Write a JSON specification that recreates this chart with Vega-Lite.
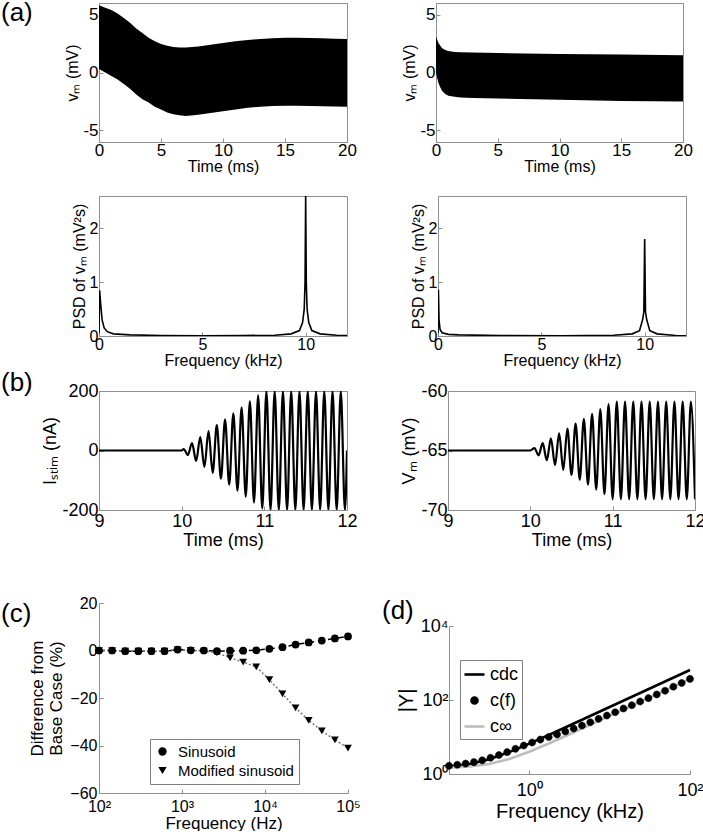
{
  "$schema": "https://vega.github.io/schema/vega-lite/v6.json",
  "padding": {"left": 0, "top": -1, "right": 0, "bottom": 0},
  "background": "white",
  "config": {
    "font": "Liberation Sans",
    "view": {"stroke": null},
    "axis": {"grid": false, "domainColor": "#8f8f8f", "tickColor": "#8f8f8f", "tickSize": -4, "labelColor": "black", "titleColor": "black", "labelFont": "Liberation Sans", "titleFont": "Liberation Sans", "titleFontWeight": "normal", "labelFlush": false, "labelOverlap": false, "labelFontSize": 17, "titleFontSize": 16},
    "axisX": {"labelPadding": 4, "titlePadding": 0},
    "axisY": {"labelPadding": 5, "titlePadding": 2},
    "title": {"fontWeight": "normal", "fontSize": 26, "font": "Liberation Sans", "color": "black", "anchor": "start", "frame": "group", "offset": 0, "baseline": "alphabetic"},
    "legend": {"labelFont": "Liberation Sans", "labelColor": "black"}
  },
  "datasets": {
    "a1": [
      {"t": 0, "hi": 5.8, "lo": 0.3}, {"t": 0.5, "hi": 5.6, "lo": 0.0}, {"t": 1, "hi": 5.4, "lo": -0.3}, {"t": 1.5, "hi": 5.1, "lo": -0.6},
      {"t": 2, "hi": 4.7, "lo": -1.0}, {"t": 2.5, "hi": 4.3, "lo": -1.4}, {"t": 3, "hi": 3.8, "lo": -1.9}, {"t": 3.5, "hi": 3.4, "lo": -2.3},
      {"t": 4, "hi": 3.0, "lo": -2.6}, {"t": 4.5, "hi": 2.7, "lo": -2.95}, {"t": 5, "hi": 2.45, "lo": -3.2}, {"t": 5.5, "hi": 2.3, "lo": -3.45},
      {"t": 6, "hi": 2.2, "lo": -3.6}, {"t": 6.5, "hi": 2.15, "lo": -3.7}, {"t": 7, "hi": 2.15, "lo": -3.75}, {"t": 8, "hi": 2.25, "lo": -3.65},
      {"t": 9, "hi": 2.4, "lo": -3.5}, {"t": 10, "hi": 2.55, "lo": -3.35}, {"t": 11, "hi": 2.7, "lo": -3.2}, {"t": 12, "hi": 2.8, "lo": -3.05},
      {"t": 13, "hi": 2.9, "lo": -2.95}, {"t": 14, "hi": 2.95, "lo": -2.9}, {"t": 15, "hi": 3.0, "lo": -2.88}, {"t": 16, "hi": 3.0, "lo": -2.88},
      {"t": 17, "hi": 2.98, "lo": -2.9}, {"t": 18, "hi": 2.95, "lo": -2.92}, {"t": 19, "hi": 2.92, "lo": -2.93}, {"t": 20, "hi": 2.9, "lo": -2.95}
    ],
    "a2": [
      {"t": 0, "hi": 3.1, "lo": 0.0}, {"t": 0.1, "hi": 2.8, "lo": -0.5}, {"t": 0.2, "hi": 2.55, "lo": -0.9}, {"t": 0.35, "hi": 2.3, "lo": -1.3},
      {"t": 0.5, "hi": 2.1, "lo": -1.6}, {"t": 0.75, "hi": 1.95, "lo": -1.85}, {"t": 1, "hi": 1.85, "lo": -2.0}, {"t": 1.5, "hi": 1.78, "lo": -2.1},
      {"t": 2, "hi": 1.75, "lo": -2.15}, {"t": 3, "hi": 1.72, "lo": -2.2}, {"t": 5, "hi": 1.68, "lo": -2.25}, {"t": 10, "hi": 1.6, "lo": -2.35},
      {"t": 15, "hi": 1.55, "lo": -2.45}, {"t": 20, "hi": 1.5, "lo": -2.5}
    ],
    "psd1": [
      {"f": 0, "p": 0.05}, {"f": 0.03, "p": 0.85}, {"f": 0.08, "p": 0.6}, {"f": 0.15, "p": 0.3}, {"f": 0.25, "p": 0.15}, {"f": 0.4, "p": 0.08},
      {"f": 0.7, "p": 0.04}, {"f": 1.5, "p": 0.02}, {"f": 3, "p": 0.01}, {"f": 5, "p": 0.006}, {"f": 7, "p": 0.008}, {"f": 8.5, "p": 0.015},
      {"f": 9.3, "p": 0.04}, {"f": 9.7, "p": 0.1}, {"f": 9.85, "p": 0.25}, {"f": 9.93, "p": 0.5}, {"f": 9.97, "p": 1.0}, {"f": 10.0, "p": 2.6},
      {"f": 10.03, "p": 1.0}, {"f": 10.07, "p": 0.5}, {"f": 10.15, "p": 0.25}, {"f": 10.3, "p": 0.1}, {"f": 10.7, "p": 0.04}, {"f": 11.5, "p": 0.015}, {"f": 12, "p": 0.01}
    ],
    "psd2": [
      {"f": 0, "p": 0.05}, {"f": 0.02, "p": 0.86}, {"f": 0.05, "p": 0.3}, {"f": 0.1, "p": 0.12}, {"f": 0.2, "p": 0.06}, {"f": 0.5, "p": 0.03},
      {"f": 1, "p": 0.02}, {"f": 3, "p": 0.008}, {"f": 6, "p": 0.006}, {"f": 8.5, "p": 0.015}, {"f": 9.4, "p": 0.04}, {"f": 9.75, "p": 0.1},
      {"f": 9.9, "p": 0.3}, {"f": 9.96, "p": 0.45}, {"f": 10.0, "p": 1.8}, {"f": 10.04, "p": 0.45}, {"f": 10.1, "p": 0.3}, {"f": 10.25, "p": 0.1},
      {"f": 10.6, "p": 0.04}, {"f": 11.5, "p": 0.01}, {"f": 12, "p": 0.005}
    ],
    "istim": [
      {"t": 9, "i": 0}, {"t": 10, "i": 0}, {"t": 10.025, "i": 5}, {"t": 10.075, "i": -15}, {"t": 10.125, "i": 25}, {"t": 10.175, "i": -35},
      {"t": 10.225, "i": 45}, {"t": 10.275, "i": -55}, {"t": 10.325, "i": 65}, {"t": 10.375, "i": -75}, {"t": 10.425, "i": 85}, {"t": 10.475, "i": -95},
      {"t": 10.525, "i": 105}, {"t": 10.575, "i": -115}, {"t": 10.625, "i": 125}, {"t": 10.675, "i": -135}, {"t": 10.725, "i": 145}, {"t": 10.775, "i": -155},
      {"t": 10.825, "i": 165}, {"t": 10.875, "i": -175}, {"t": 10.925, "i": 185}, {"t": 10.975, "i": -195}, {"t": 11.025, "i": 200}, {"t": 11.075, "i": -200},
      {"t": 11.125, "i": 200}, {"t": 11.175, "i": -200}, {"t": 11.225, "i": 200}, {"t": 11.275, "i": -200}, {"t": 11.325, "i": 200}, {"t": 11.375, "i": -200},
      {"t": 11.425, "i": 200}, {"t": 11.475, "i": -200}, {"t": 11.525, "i": 200}, {"t": 11.575, "i": -200}, {"t": 11.625, "i": 200}, {"t": 11.675, "i": -200},
      {"t": 11.725, "i": 200}, {"t": 11.775, "i": -200}, {"t": 11.825, "i": 200}, {"t": 11.875, "i": -200}, {"t": 11.925, "i": 200}, {"t": 11.975, "i": -200},
      {"t": 12, "i": 0}
    ],
    "vm": [
      {"t": 9, "v": -65}, {"t": 10, "v": -65}, {"t": 10.05, "v": -64.795}, {"t": 10.1, "v": -65.41}, {"t": 10.15, "v": -64.385}, {"t": 10.2, "v": -65.82},
      {"t": 10.25, "v": -63.975}, {"t": 10.3, "v": -66.23}, {"t": 10.35, "v": -63.565}, {"t": 10.4, "v": -66.64}, {"t": 10.45, "v": -63.155}, {"t": 10.5, "v": -67.05},
      {"t": 10.55, "v": -62.745}, {"t": 10.6, "v": -67.46}, {"t": 10.65, "v": -62.335}, {"t": 10.7, "v": -67.87}, {"t": 10.75, "v": -61.925}, {"t": 10.8, "v": -68.28},
      {"t": 10.85, "v": -61.515}, {"t": 10.9, "v": -68.69}, {"t": 10.95, "v": -61.105}, {"t": 11.0, "v": -69.1}, {"t": 11.05, "v": -60.9}, {"t": 11.1, "v": -69.1},
      {"t": 11.15, "v": -60.9}, {"t": 11.2, "v": -69.1}, {"t": 11.25, "v": -60.9}, {"t": 11.3, "v": -69.1}, {"t": 11.35, "v": -60.9}, {"t": 11.4, "v": -69.1},
      {"t": 11.45, "v": -60.9}, {"t": 11.5, "v": -69.1}, {"t": 11.55, "v": -60.9}, {"t": 11.6, "v": -69.1}, {"t": 11.65, "v": -60.9}, {"t": 11.7, "v": -69.1},
      {"t": 11.75, "v": -60.9}, {"t": 11.8, "v": -69.1}, {"t": 11.85, "v": -60.9}, {"t": 11.9, "v": -69.1}, {"t": 11.95, "v": -60.9}, {"t": 12.0, "v": -69.1}
    ],
    "cdat": [
      {"f": 100, "s": "Sinusoid", "d": 0}, {"f": 143.8, "s": "Sinusoid", "d": 0}, {"f": 206.9, "s": "Sinusoid", "d": -0.3}, {"f": 297.6, "s": "Sinusoid", "d": -0.3},
      {"f": 428.1, "s": "Sinusoid", "d": -0.3}, {"f": 615.8, "s": "Sinusoid", "d": -0.3}, {"f": 885.9, "s": "Sinusoid", "d": 0.4}, {"f": 1274.3, "s": "Sinusoid", "d": 0.1},
      {"f": 1833, "s": "Sinusoid", "d": 0}, {"f": 2636.7, "s": "Sinusoid", "d": -0.3}, {"f": 3792.7, "s": "Sinusoid", "d": -0.1}, {"f": 5455.6, "s": "Sinusoid", "d": -0.1},
      {"f": 7847.6, "s": "Sinusoid", "d": 0.1}, {"f": 11288.4, "s": "Sinusoid", "d": 0.7}, {"f": 16237.8, "s": "Sinusoid", "d": 1.4}, {"f": 23357.2, "s": "Sinusoid", "d": 2.5},
      {"f": 33598.2, "s": "Sinusoid", "d": 3.4}, {"f": 48329.3, "s": "Sinusoid", "d": 4.2}, {"f": 69519.3, "s": "Sinusoid", "d": 5.1}, {"f": 100000, "s": "Sinusoid", "d": 5.9},
      {"f": 100, "s": "Modified sinusoid", "d": 0}, {"f": 143.8, "s": "Modified sinusoid", "d": 0}, {"f": 206.9, "s": "Modified sinusoid", "d": -0.3}, {"f": 297.6, "s": "Modified sinusoid", "d": -0.3},
      {"f": 428.1, "s": "Modified sinusoid", "d": -0.3}, {"f": 615.8, "s": "Modified sinusoid", "d": -0.3}, {"f": 885.9, "s": "Modified sinusoid", "d": 0.3}, {"f": 1274.3, "s": "Modified sinusoid", "d": 0.1},
      {"f": 1833, "s": "Modified sinusoid", "d": -0.3}, {"f": 2636.7, "s": "Modified sinusoid", "d": -1.0}, {"f": 3792.7, "s": "Modified sinusoid", "d": -3.1}, {"f": 5455.6, "s": "Modified sinusoid", "d": -4.9},
      {"f": 7847.6, "s": "Modified sinusoid", "d": -6.9}, {"f": 11288.4, "s": "Modified sinusoid", "d": -12.3}, {"f": 16237.8, "s": "Modified sinusoid", "d": -18.3}, {"f": 23357.2, "s": "Modified sinusoid", "d": -24.2},
      {"f": 33598.2, "s": "Modified sinusoid", "d": -29.4}, {"f": 48329.3, "s": "Modified sinusoid", "d": -33.8}, {"f": 69519.3, "s": "Modified sinusoid", "d": -37.6}, {"f": 100000, "s": "Modified sinusoid", "d": -41.1}
    ],
    "dline": [
      {"f": 0.1, "s": "cdc", "y": 1.58}, {"f": 0.1778, "s": "cdc", "y": 1.84}, {"f": 0.3162, "s": "cdc", "y": 2.5}, {"f": 0.5623, "s": "cdc", "y": 3.91},
      {"f": 1, "s": "cdc", "y": 6.62}, {"f": 1.778, "s": "cdc", "y": 11.6}, {"f": 3.162, "s": "cdc", "y": 20.5}, {"f": 5.623, "s": "cdc", "y": 36.3},
      {"f": 10, "s": "cdc", "y": 64.6}, {"f": 17.78, "s": "cdc", "y": 115}, {"f": 31.62, "s": "cdc", "y": 204}, {"f": 56.23, "s": "cdc", "y": 363}, {"f": 100, "s": "cdc", "y": 646},
      {"f": 0.1, "s": "c∞", "y": 1.49}, {"f": 0.1778, "s": "c∞", "y": 1.59}, {"f": 0.3162, "s": "c∞", "y": 1.86}, {"f": 0.5623, "s": "c∞", "y": 2.54},
      {"f": 1, "s": "c∞", "y": 3.99}, {"f": 1.778, "s": "c∞", "y": 6.78}, {"f": 3.162, "s": "c∞", "y": 11.85}, {"f": 5.623, "s": "c∞", "y": 20.95},
      {"f": 10, "s": "c∞", "y": 37.2}, {"f": 17.78, "s": "c∞", "y": 66.2}, {"f": 31.62, "s": "c∞", "y": 117.6}, {"f": 56.23, "s": "c∞", "y": 209}, {"f": 100, "s": "c∞", "y": 372}
    ],
    "ddot": [
      {"f": 0.1, "s": "c(f)", "y": 1.66}, {"f": 0.1269, "s": "c(f)", "y": 1.78}, {"f": 0.161, "s": "c(f)", "y": 1.91}, {"f": 0.2043, "s": "c(f)", "y": 2.09},
      {"f": 0.2593, "s": "c(f)", "y": 2.34}, {"f": 0.329, "s": "c(f)", "y": 2.75}, {"f": 0.4175, "s": "c(f)", "y": 3.24}, {"f": 0.5298, "s": "c(f)", "y": 3.89},
      {"f": 0.6723, "s": "c(f)", "y": 4.79}, {"f": 0.8532, "s": "c(f)", "y": 5.89}, {"f": 1.0826, "s": "c(f)", "y": 7.08}, {"f": 1.3738, "s": "c(f)", "y": 8.51},
      {"f": 1.7433, "s": "c(f)", "y": 10.0}, {"f": 2.2122, "s": "c(f)", "y": 11.75}, {"f": 2.8072, "s": "c(f)", "y": 14.13}, {"f": 3.5622, "s": "c(f)", "y": 16.98},
      {"f": 4.5204, "s": "c(f)", "y": 20.42}, {"f": 5.7362, "s": "c(f)", "y": 25.12}, {"f": 7.279, "s": "c(f)", "y": 30.9}, {"f": 9.2367, "s": "c(f)", "y": 38.02},
      {"f": 11.721, "s": "c(f)", "y": 46.77}, {"f": 14.874, "s": "c(f)", "y": 58.88}, {"f": 18.874, "s": "c(f)", "y": 72.44}, {"f": 23.95, "s": "c(f)", "y": 91.2},
      {"f": 30.392, "s": "c(f)", "y": 112.2}, {"f": 38.566, "s": "c(f)", "y": 141.3}, {"f": 48.939, "s": "c(f)", "y": 177.8}, {"f": 62.102, "s": "c(f)", "y": 229.1},
      {"f": 78.805, "s": "c(f)", "y": 288.4}, {"f": 100, "s": "c(f)", "y": 371.5}
    ]
  },
  "resolve": {"scale": {"color": "independent", "shape": "independent", "strokeDash": "independent", "fill": "independent", "stroke": "independent"}, "legend": {"color": "independent", "shape": "independent", "strokeDash": "independent", "fill": "independent", "stroke": "independent"}},
  "spacing": 0,
  "vconcat": [
    {
      "spacing": 20,
      "resolve": {"scale": {"color": "independent", "shape": "independent", "strokeDash": "independent", "fill": "independent", "stroke": "independent"}, "legend": {"color": "independent", "shape": "independent", "strokeDash": "independent", "fill": "independent", "stroke": "independent"}},
      "vconcat": [
        {
          "spacing": 44,
          "hconcat": [
            {
              "width": 248, "height": 139,
              "view": {"stroke": "#8f8f8f"},
              "title": {"text": "(a)", "dx": -98, "dy": 27},
              "data": {"name": "a1"},
              "mark": {"type": "area", "color": "black", "clip": true},
              "encoding": {
                "x": {"field": "t", "type": "quantitative", "scale": {"domain": [0, 20], "nice": false}, "axis": {"values": [0, 5, 10, 15, 20], "title": "Time (ms)"}},
                "y": {"field": "hi", "type": "quantitative", "scale": {"domain": [-6, 6], "nice": false, "zero": false}, "axis": {"values": [-5, 0, 5], "title": "vₘ (mV)", "labelExpr": "replace(datum.label, '−', '-')"}},
                "y2": {"field": "lo"}
              }
            },
            {
              "width": 247, "height": 139,
              "view": {"stroke": "#8f8f8f"},
              "data": {"name": "a2"},
              "mark": {"type": "area", "color": "black", "clip": true},
              "encoding": {
                "x": {"field": "t", "type": "quantitative", "scale": {"domain": [0, 20], "nice": false}, "axis": {"values": [0, 5, 10, 15, 20], "title": "Time (ms)"}},
                "y": {"field": "hi", "type": "quantitative", "scale": {"domain": [-6, 6], "nice": false, "zero": false}, "axis": {"values": [-5, 0, 5], "title": "vₘ (mV)", "labelExpr": "replace(datum.label, '−', '-')"}},
                "y2": {"field": "lo"}
              }
            }
          ]
        },
        {
          "spacing": 61,
          "hconcat": [
            {
              "width": 248, "height": 140,
              "view": {"stroke": "#8f8f8f"},
              "data": {"name": "psd1"},
              "mark": {"type": "line", "color": "black", "strokeWidth": 1.6, "clip": true},
              "encoding": {
                "x": {"field": "f", "type": "quantitative", "scale": {"domain": [0, 12], "nice": false}, "axis": {"values": [0, 5, 10], "title": "Frequency (kHz)", "labelFontSize": 16}},
                "y": {"field": "p", "type": "quantitative", "scale": {"domain": [0, 2.6], "nice": false}, "axis": {"values": [0, 1, 2], "title": "PSD of vₘ (mV²s)", "labelFontSize": 16}}
              }
            },
            {
              "width": 248, "height": 140,
              "view": {"stroke": "#8f8f8f"},
              "data": {"name": "psd2"},
              "mark": {"type": "line", "color": "black", "strokeWidth": 1.6, "clip": true},
              "encoding": {
                "x": {"field": "f", "type": "quantitative", "scale": {"domain": [0, 12], "nice": false}, "axis": {"values": [0, 5, 10], "title": "Frequency (kHz)", "labelFontSize": 16}},
                "y": {"field": "p", "type": "quantitative", "scale": {"domain": [0, 2.6], "nice": false}, "axis": {"values": [0, 1, 2], "title": "PSD of vₘ (mV²s)", "labelFontSize": 16}}
              }
            }
          ]
        }
      ]
    },
    {
      "spacing": 45,
      "resolve": {"scale": {"color": "independent", "shape": "independent", "strokeDash": "independent", "fill": "independent", "stroke": "independent"}, "legend": {"color": "independent", "shape": "independent", "strokeDash": "independent", "fill": "independent", "stroke": "independent"}},
      "vconcat": [
        {
          "spacing": 42,
          "hconcat": [
            {
              "width": 248, "height": 119,
              "view": {"stroke": "#8f8f8f"},
              "title": {"text": "(b)", "dx": -98, "dy": 18},
              "data": {"name": "istim"},
              "mark": {"type": "line", "color": "black", "strokeWidth": 2.2, "interpolate": "monotone", "clip": true},
              "encoding": {
                "x": {"field": "t", "type": "quantitative", "scale": {"domain": [9, 12], "nice": false}, "axis": {"values": [9, 10, 11, 12], "title": "Time (ms)", "labelFontSize": 18, "titleFontSize": 18, "labelPadding": 6, "titlePadding": 1}},
                "y": {"field": "i", "type": "quantitative", "scale": {"domain": [-200, 200], "nice": false}, "axis": {"values": [-200, 0, 200], "title": "Iₛₜᵢₘ (nA)", "labelFontSize": 18, "titleFontSize": 18, "labelExpr": "replace(datum.label, '−', '-')"}}
              }
            },
            {
              "width": 247, "height": 119,
              "view": {"stroke": "#8f8f8f"},
              "data": {"name": "vm"},
              "mark": {"type": "line", "color": "black", "strokeWidth": 2.2, "interpolate": "monotone", "clip": true},
              "encoding": {
                "x": {"field": "t", "type": "quantitative", "scale": {"domain": [9, 12], "nice": false}, "axis": {"values": [9, 10, 11, 12], "title": "Time (ms)", "labelFontSize": 18, "titleFontSize": 18, "labelPadding": 6, "titlePadding": 1}},
                "y": {"field": "v", "type": "quantitative", "scale": {"domain": [-70, -60], "nice": false, "zero": false}, "axis": {"values": [-70, -65, -60], "title": "Vₘ (mV)", "labelFontSize": 18, "titleFontSize": 18, "labelExpr": "replace(datum.label, '−', '-')"}}
              }
            }
          ]
        },
        {
          "spacing": 21,
          "resolve": {"scale": {"color": "independent", "shape": "independent", "strokeDash": "independent", "fill": "independent", "stroke": "independent"}, "legend": {"color": "independent", "shape": "independent", "strokeDash": "independent", "fill": "independent", "stroke": "independent"}},
          "hconcat": [
            {
              "width": 249, "height": 190,
              "title": {"text": "(c)", "dx": -98, "dy": 36},
              "data": {"name": "cdat"},
              "encoding": {
                "x": {"field": "f", "type": "quantitative", "scale": {"type": "log", "domain": [100, 100000], "nice": false}, "axis": {"values": [100, 1000, 10000, 100000], "title": "Frequency (Hz)", "labelFontSize": 16, "titleFontSize": 17, "labelPadding": 9, "titlePadding": 1, "labelExpr": "datum.value == 100 ? '10²' : datum.value == 1000 ? '10³' : datum.value == 10000 ? '10⁴' : '10⁵'"}},
                "y": {"field": "d", "type": "quantitative", "scale": {"domain": [-60, 20], "nice": false}, "axis": {"values": [-60, -40, -20, 0, 20], "title": ["Difference from", "Base Case (%)"], "labelFontSize": 16, "titleFontSize": 17, "labelPadding": 6, "titlePadding": 4}}
              },
              "layer": [
                {
                  "mark": {"type": "line", "strokeWidth": 1.5},
                  "encoding": {
                    "color": {"field": "s", "type": "nominal", "scale": {"domain": ["Modified sinusoid", "Sinusoid"], "range": ["#777777", "black"]}, "legend": null},
                    "strokeDash": {"field": "s", "type": "nominal", "scale": {"domain": ["Modified sinusoid", "Sinusoid"], "range": [[2, 2], [6, 4]]}, "legend": null}
                  }
                },
                {
                  "mark": {"type": "point", "filled": true, "color": "black", "opacity": 1, "size": 60},
                  "encoding": {
                    "shape": {"field": "s", "type": "nominal", "scale": {"domain": ["Sinusoid", "Modified sinusoid"], "range": ["circle", "triangle-down"]},
                      "legend": {"title": null, "orient": "none", "legendX": 51, "legendY": 136, "strokeColor": "#7f7f7f", "fillColor": "white", "padding": 5, "labelFontSize": 15, "symbolSize": 70, "symbolFillColor": "black", "symbolStrokeColor": "black", "rowPadding": 3, "labelOffset": 8}}
                  }
                }
              ]
            },
            {
              "spacing": -7,
              "resolve": {"scale": {"color": "independent", "shape": "independent", "strokeDash": "independent", "fill": "independent", "stroke": "independent"}, "legend": {"color": "independent", "shape": "independent", "strokeDash": "independent", "fill": "independent", "stroke": "independent"}},
              "vconcat": [
                {
                  "width": 1, "height": 1,
                  "title": {"text": "(d)", "dx": -67, "dy": 25},
                  "data": {"values": []},
                  "mark": {"type": "point"},
                  "encoding": {}
                },
                {
                  "width": 241, "height": 148,
                  "encoding": {
                    "x": {"field": "f", "type": "quantitative", "scale": {"type": "log", "domain": [0.1, 100], "nice": false}, "axis": {"values": [1, 100], "title": "Frequency (kHz)", "labelFontSize": 18, "titleFontSize": 20, "labelPadding": 11, "titlePadding": 2, "labelExpr": "datum.value == 1 ? '10⁰' : '10²'"}},
                    "y": {"field": "y", "type": "quantitative", "scale": {"type": "log", "domain": [1, 10000], "nice": false}, "axis": {"values": [1, 100, 10000], "title": "|Y|", "labelFontSize": 18, "titleFontSize": 20, "labelPadding": 5, "titlePadding": 4, "labelExpr": "datum.value == 1 ? '10⁰' : datum.value == 100 ? '10²' : '10⁴'"}}
                  },
                  "layer": [
                    {
                      "data": {"name": "dline"},
                      "mark": {"type": "line", "strokeWidth": 2.6},
                      "encoding": {
                        "color": {"field": "s", "type": "nominal", "scale": {"domain": ["cdc", "c∞"], "range": ["black", "#bdbdbd"]}, "legend": null}
                      }
                    },
                    {
                      "data": {"name": "ddot"},
                      "mark": {"type": "point", "filled": true, "opacity": 1, "size": 560, "strokeWidth": 0.5},
                      "encoding": {
                        "shape": {"field": "s", "type": "nominal", "scale": {"domain": ["cdc", "c(f)", "c∞"], "range": ["M-1,0H1", "M-0.3,0A0.3,0.3,0,1,1,0.3,0A0.3,0.3,0,1,1,-0.3,0Z", "M-1,0H1"]},
                          "legend": {"title": null, "orient": "none", "legendX": 11, "legendY": 34, "strokeColor": "#7f7f7f", "fillColor": "white", "padding": 3, "labelFontSize": 18, "symbolSize": 400, "symbolStrokeWidth": 2.6, "rowPadding": 5, "labelOffset": 4}},
                        "fill": {"field": "s", "type": "nominal", "scale": {"domain": ["cdc", "c(f)", "c∞"], "range": ["black", "black", "#bdbdbd"]},
                          "legend": {"title": null, "orient": "none", "legendX": 11, "legendY": 34, "strokeColor": "#7f7f7f", "fillColor": "white", "padding": 3, "labelFontSize": 18, "symbolSize": 400, "symbolStrokeWidth": 2.6, "rowPadding": 5, "labelOffset": 4}},
                        "stroke": {"field": "s", "type": "nominal", "scale": {"domain": ["cdc", "c(f)", "c∞"], "range": ["black", "black", "#bdbdbd"]},
                          "legend": {"title": null, "orient": "none", "legendX": 11, "legendY": 34, "strokeColor": "#7f7f7f", "fillColor": "white", "padding": 3, "labelFontSize": 18, "symbolSize": 400, "symbolStrokeWidth": 2.6, "rowPadding": 5, "labelOffset": 4}}
                      }
                    }
                  ]
                }
              ]
            }
          ]
        }
      ]
    }
  ]
}
